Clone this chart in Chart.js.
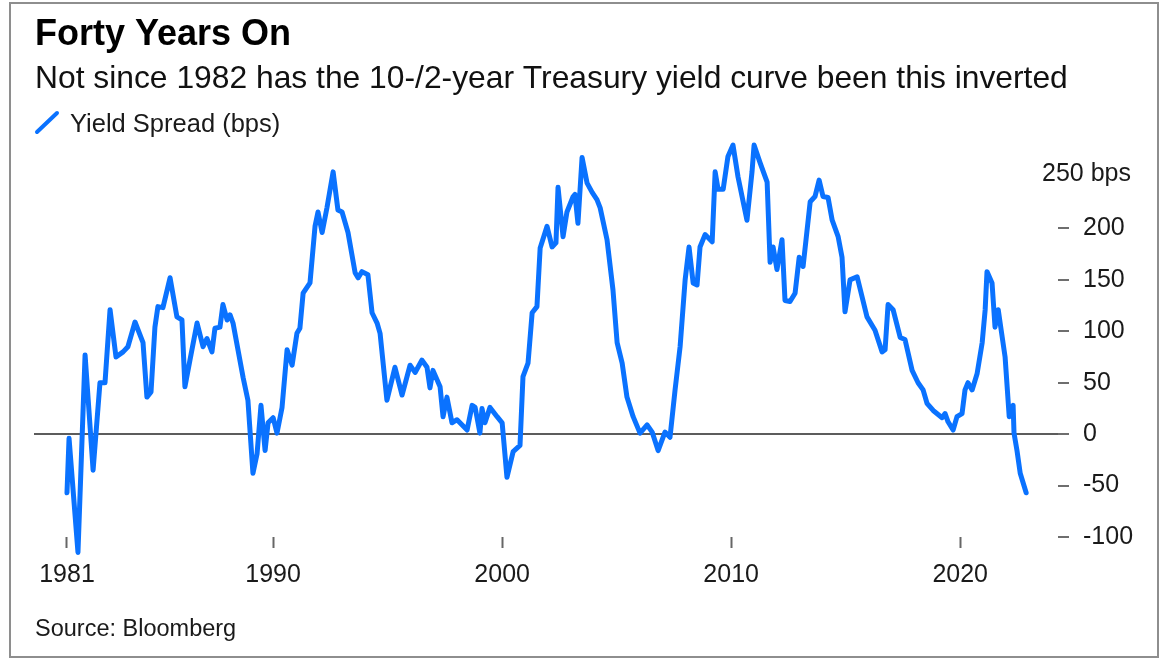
<!DOCTYPE html>
<html>
<head>
<meta charset="utf-8">
<script src="https://cdn.jsdelivr.net/npm/chart.js@4.4.1/dist/chart.umd.min.js"></script>
<style>
  html, body { margin: 0; padding: 0; background: #fff; }
  #wrap { position: relative; width: 1162px; height: 661px; }
</style>
</head>
<body>
<div id="wrap"><canvas id="c" width="1162" height="661"></canvas></div>
<script>
// 10-year minus 2-year Treasury yield spread, basis points (date as decimal year)
const dates = [
  1981.00, 1981.09, 1981.48, 1981.79, 1982.14, 1982.44, 1982.66, 1982.88, 1983.14, 1983.45,
  1983.66, 1983.97, 1984.32, 1984.49, 1984.67, 1984.84, 1984.97, 1985.19, 1985.50, 1985.80,
  1986.02, 1986.15, 1986.37, 1986.68, 1986.94, 1987.11, 1987.33, 1987.46, 1987.68, 1987.81,
  1987.99, 1988.12, 1988.25, 1988.69, 1988.90, 1989.12, 1989.30, 1989.47, 1989.65, 1989.78,
  1990.00, 1990.17, 1990.39, 1990.61, 1990.83, 1991.04, 1991.17, 1991.31, 1991.61, 1991.83,
  1991.96, 1992.14, 1992.35, 1992.62, 1992.83, 1993.01, 1993.27, 1993.58, 1993.71, 1993.88,
  1994.14, 1994.32, 1994.54, 1994.67, 1994.97, 1995.32, 1995.63, 1995.98, 1996.20, 1996.50,
  1996.72, 1996.85, 1996.98, 1997.29, 1997.42, 1997.59, 1997.81, 1998.03, 1998.47, 1998.69,
  1998.82, 1999.03, 1999.12, 1999.25, 1999.47, 1999.78, 2000.00, 2000.08, 2000.21, 2000.48,
  2000.78, 2000.91, 2001.13, 2001.31, 2001.52, 2001.66, 2001.96, 2002.18, 2002.35, 2002.44,
  2002.66, 2002.83, 2003.10, 2003.18, 2003.31, 2003.49, 2003.71, 2003.93, 2004.14, 2004.28,
  2004.58, 2004.84, 2005.02, 2005.24, 2005.45, 2005.72, 2006.02, 2006.33, 2006.55, 2006.81,
  2007.11, 2007.33, 2007.55, 2007.77, 2007.99, 2008.16, 2008.34, 2008.51, 2008.64, 2008.86,
  2009.17, 2009.30, 2009.43, 2009.65, 2009.86, 2010.08, 2010.30, 2010.69, 2010.91, 2011.00,
  2011.26, 2011.57, 2011.70, 2011.83, 2012.00, 2012.22, 2012.35, 2012.57, 2012.79, 2012.97,
  2013.14, 2013.45, 2013.66, 2013.84, 2014.01, 2014.23, 2014.41, 2014.67, 2014.84, 2014.97,
  2015.19, 2015.50, 2015.93, 2016.28, 2016.59, 2016.72, 2016.85, 2017.07, 2017.38, 2017.59,
  2017.90, 2018.16, 2018.38, 2018.55, 2018.82, 2019.21, 2019.34, 2019.47, 2019.69, 2019.86,
  2020.08, 2020.21, 2020.34, 2020.52, 2020.74, 2020.96, 2021.09, 2021.17, 2021.39, 2021.52,
  2021.66, 2021.79, 2021.96, 2022.14, 2022.31, 2022.35, 2022.48, 2022.62, 2022.88
];
const spread = [
  -57, -4, -115, 77, -35, 50, 50, 121, 75, 80,
  85, 109, 89, 36, 41, 104, 124, 123, 152, 114,
  111, 46, 72, 108, 85, 93, 80, 103, 104, 126,
  111, 116, 108, 55, 33, -38, -19, 28, -16, 11,
  16, 1, 26, 82, 67, 98, 103, 137, 147, 202,
  216, 196, 220, 255, 218, 216, 196, 157, 152, 158,
  155, 118, 108, 98, 33, 65, 38, 67, 60, 72,
  65, 45, 62, 46, 17, 36, 11, 14, 4, 28,
  26, 1, 25, 11, 26, 17, 11, -9, -42, -17,
  -11, 56, 69, 118, 124, 181, 202, 182, 186, 240,
  192, 216, 231, 233, 205, 269, 244, 235, 228, 220,
  189, 140, 89, 69, 36, 17, 1, 9, 2, -16,
  2, -3, 43, 85, 150, 182, 147, 145, 182, 194,
  187, 255, 238, 238, 270, 281, 250, 208, 255, 281,
  264, 245, 167, 182, 160, 189, 130, 129, 137, 172,
  163, 226, 231, 247, 231, 230, 208, 192, 172, 119,
  150, 153, 114, 101, 80, 82, 126, 121, 94, 92,
  62, 50, 43, 30, 23, 16, 20, 12, 4, 17,
  20, 43, 50, 43, 59, 89, 121, 158, 147, 104,
  121, 101, 75, 17, 28, 1, -16, -38, -57
];
const yearTicks = [1981, 1990, 2000, 2010, 2020];
const spreadTicks = [-100, -50, 0, 50, 100, 150, 200, 250];
const topTickUnit = 'bps';

const titleText = 'Forty Years On';
const subtitleText = 'Not since 1982 has the 10-/2-year Treasury yield curve been this inverted';
const seriesName = 'Yield Spread (bps)';
const sourceText = 'Source: Bloomberg';

const BLUE = '#0a72ff';
const FONT = '"Liberation Sans", Arial, Helvetica, sans-serif';

// Headline, legend, source note, frame and the unit label on the top tick
const decorations = {
  id: 'decorations',
  afterDraw(chart) {
    const ctx = chart.ctx;
    ctx.save();
    // outer frame
    ctx.strokeStyle = '#8e8e8e';
    ctx.lineWidth = 2;
    ctx.strokeRect(10, 3, 1148, 654);

    ctx.textAlign = 'left';
    ctx.textBaseline = 'alphabetic';
    ctx.fillStyle = '#000';
    ctx.font = 'bold 36px ' + FONT;
    ctx.fillText(titleText, 35, 45);

    ctx.fillStyle = '#111';
    ctx.font = '31.8px ' + FONT;
    ctx.fillText(subtitleText, 35, 88);

    // legend: slanted line swatch + label
    ctx.strokeStyle = BLUE;
    ctx.lineWidth = 4;
    ctx.lineCap = 'round';
    ctx.beginPath();
    ctx.moveTo(37, 132);
    ctx.lineTo(57, 113);
    ctx.stroke();
    ctx.fillStyle = '#1a1a1a';
    ctx.font = '25.5px ' + FONT;
    ctx.fillText(seriesName, 70, 132);

    ctx.fillStyle = '#1a1a1a';
    ctx.font = '23.5px ' + FONT;
    ctx.fillText(sourceText, 35, 636);

    // top tick label carries the unit, right-aligned with the other labels
    const y = chart.scales.y;
    const top = spreadTicks[spreadTicks.length - 1];
    ctx.font = '25px ' + FONT;
    ctx.textAlign = 'right';
    ctx.textBaseline = 'middle';
    ctx.fillStyle = '#1a1a1a';
    ctx.fillText(top + ' ' + topTickUnit, 1131, y.getPixelForValue(top) - 3);
    ctx.restore();
  }
};

new Chart(document.getElementById('c'), {
  type: 'line',
  data: {
    datasets: [{
      label: seriesName,
      data: dates.map((d, i) => ({ x: d, y: spread[i] })),
      borderColor: BLUE,
      borderWidth: 5,
      borderJoinStyle: 'round',
      borderCapStyle: 'round',
      pointRadius: 0,
      tension: 0,
      fill: false,
      clip: false
    }]
  },
  options: {
    responsive: false,
    animation: false,
    devicePixelRatio: 1,
    layout: { padding: { left: 34, top: 177, right: 0, bottom: 0 } },
    plugins: {
      legend: { display: false },
      title: { display: false },
      tooltip: { enabled: false }
    },
    scales: {
      x: {
        type: 'linear',
        position: 'bottom',
        min: 1979.56,
        max: 2024.27,
        afterBuildTicks: (s) => { s.ticks = yearTicks.map(v => ({ value: v })); },
        afterFit: (s) => { s.height = 124; },
        border: { display: false },
        grid: {
          drawOnChartArea: false,
          drawTicks: true,
          tickLength: 11,
          tickWidth: 2,
          tickColor: '#666'
        },
        ticks: {
          autoSkip: false,
          maxRotation: 0,
          padding: 12,
          color: '#1a1a1a',
          font: { family: FONT, size: 25 },
          callback: (v) => String(v)
        }
      },
      y: {
        position: 'right',
        min: -100,
        max: 250,
        afterBuildTicks: (s) => { s.ticks = spreadTicks.map(v => ({ value: v })); },
        afterFit: (s) => { s.width = 104; },
        border: { display: false },
        grid: {
          drawOnChartArea: true,
          drawTicks: true,
          tickLength: 11,
          lineWidth: 2,
          tickWidth: 2,
          color: (c) => (c.tick && c.tick.value === 0) ? '#5c5c5c' : 'rgba(0,0,0,0)',
          tickColor: (c) => (c.tick && c.tick.value === 250) ? 'rgba(0,0,0,0)' : '#6e6e6e'
        },
        ticks: {
          padding: 14,
          color: '#1a1a1a',
          font: { family: FONT, size: 25 },
          callback: (v) => (v === 250 ? '' : String(v))
        }
      }
    }
  },
  plugins: [decorations]
});
</script>
</body>
</html>
